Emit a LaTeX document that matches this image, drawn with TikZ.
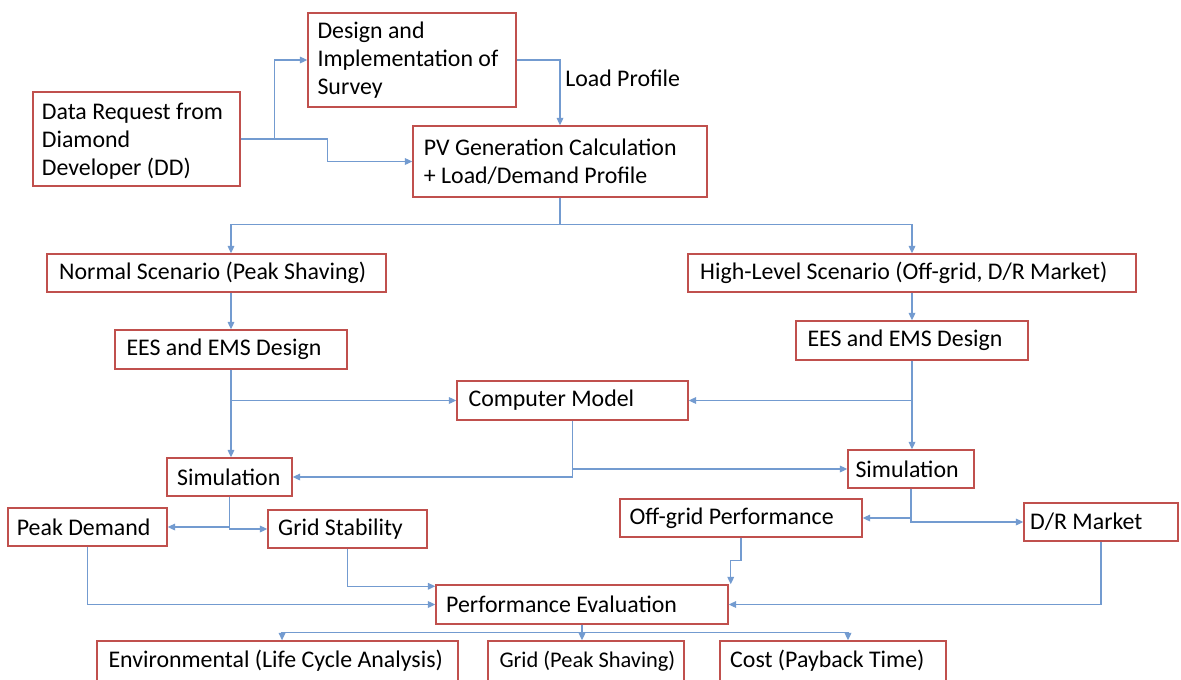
\documentclass[tikz,border=0pt]{standalone}
\usepackage{fontspec}
\setmainfont{Carlito}
\usetikzlibrary{arrows.meta}
\definecolor{boxred}{RGB}{192,80,77}
\definecolor{linkblue}{RGB}{115,155,208}
\begin{document}
\begin{tikzpicture}[x=0.75pt,y=-0.75pt,
  box/.style={draw=boxred, line width=1.1pt, fill=white, inner sep=0pt},
  lbl/.style={anchor=west, inner sep=0pt, align=left, font=\fontsize{17.9}{21}\selectfont, text=black},
  arr/.style={draw=linkblue, line width=0.85pt, -{Triangle[length=5.5pt,width=5pt]}}]
\useasboundingbox (0,0) rectangle (1181,679);

% boxes
\node[box, minimum width=155.25pt, minimum height=70.5pt] (dd) at (136.5,139) {};
\node[box, minimum width=156pt, minimum height=70.5pt] (survey) at (412,60) {};
\node[box, minimum width=220.5pt, minimum height=53.25pt] (pv) at (560,161.5) {};
\node[box, minimum width=254.25pt, minimum height=28.5pt] (normal) at (216.5,273) {};
\node[box, minimum width=336pt, minimum height=28.5pt] (high) at (912,273) {};
\node[box, minimum width=174pt, minimum height=29.25pt] (eesl) at (231,349.5) {};
\node[box, minimum width=174pt, minimum height=29.25pt] (eesr) at (912,340.5) {};
\node[box, minimum width=173.25pt, minimum height=29.25pt] (cm) at (572.5,400.5) {};
\node[box, minimum width=93.75pt, minimum height=28.5pt] (siml) at (229.5,477) {};
\node[box, minimum width=94.5pt, minimum height=28.5pt] (simr) at (911,469) {};
\node[box, minimum width=119.25pt, minimum height=28.5pt] (peak) at (87.5,527) {};
\node[box, minimum width=119.25pt, minimum height=28.5pt] (grid) at (347.5,529) {};
\node[box, minimum width=181.5pt, minimum height=28.5pt] (offgrid) at (741,518) {};
\node[box, minimum width=115.5pt, minimum height=28.5pt] (dr) at (1101,522) {};
\node[box, minimum width=219pt, minimum height=29.25pt] (pe) at (582,604.5) {};
\node[box, minimum width=270.75pt, minimum height=30pt] (env) at (277.5,661) {};
\node[box, minimum width=147pt, minimum height=30pt] (gridps) at (586,661) {};
\node[box, minimum width=169.5pt, minimum height=30pt] (cost) at (833,661) {};

% texts
\node[lbl] (ddt) at ([xshift=7pt,yshift=-1.5pt]dd.west) {Data Request from\\Diamond\\Developer (DD)};
\node[lbl] (surveyt) at ([xshift=7.5pt]survey.west) {Design and\\Implementation of\\Survey};
\node[lbl] (pvt) at ([xshift=8.5pt]pv.west) {PV Generation Calculation\\+ Load/Demand Profile};
\node[lbl] (normalt) at ([xshift=9.5pt]normal.west) {Normal Scenario (Peak Shaving)};
\node[lbl] (hight) at ([xshift=9.5pt]high.west) {High-Level Scenario (Off-grid, D/R Market)};
\node[lbl] (eeslt) at ([xshift=9pt]eesl.west) {EES and EMS Design};
\node[lbl] (eesrt) at ([xshift=9pt]eesr.west) {EES and EMS Design};
\node[lbl] (cmt) at ([xshift=9pt]cm.west) {Computer Model};
\node[lbl] (simlt) at ([xshift=8pt]siml.west) {Simulation};
\node[lbl] (simrt) at ([xshift=6pt]simr.west) {Simulation};
\node[lbl] (peakt) at ([xshift=7pt]peak.west) {Peak Demand};
\node[lbl] (gridt) at ([xshift=8pt]grid.west) {Grid Stability};
\node[lbl] (offgridt) at ([xshift=7.5pt]offgrid.west) {Off-grid Performance};
\node[lbl] (drt) at ([xshift=5pt]dr.west) {D/R Market};
\node[lbl] (pet) at ([xshift=8pt]pe.west) {Performance Evaluation};
\node[lbl] (envt) at ([xshift=9pt]env.west) {Environmental (Life Cycle Analysis)};
\node[lbl, font=\fontsize{16.8}{21}\selectfont] (gridpst) at ([xshift=9pt]gridps.west) {Grid (Peak Shaving)};
\node[lbl] (costt) at ([xshift=8pt]cost.west) {Cost (Payback Time)};
\node[lbl] (lp) at (565,78) {Load Profile};

% connectors
\draw[arr] (dd.east) -- ++(34,0) |- (survey.west);
\draw[arr] (dd.east) -- ++(87,0) |- (pv.west);
\draw[arr] (survey.east) -| (pv.north);
\draw[arr] (pv.south) -- ++(0,27) -| (normal.north -| eesl.north);
\draw[arr] (pv.south) -- ++(0,27) -| (high.north);
\draw[arr] (normal.south -| eesl.north) -- (eesl.north);
\draw[arr] (high.south) -- (eesr.north);
\draw[arr] (eesl.south) |- (cm.west);
\draw[arr] (eesl.south) -- (eesl.south |- siml.north);
\draw[arr] (eesr.south) |- (cm.east);
\draw[arr] (eesr.south) -- (eesr.south |- simr.north);
\draw[arr] (cm.south) |- (siml.east);
\draw[arr] (cm.south) |- (simr.west);
\draw[arr] (siml.south) |- (peak.east);
\draw[arr] (siml.south) |- (grid.west);
\draw[arr] (simr.south) |- (offgrid.east);
\draw[arr] (simr.south) |- (dr.west);
\draw[arr] (peak.south) |- (pe.west);
\draw[arr] (grid.south) |- ([yshift=-1.5pt]pe.north west);
\draw[arr] (offgrid.south) -- ++(0,23) -| ([xshift=1.5pt]pe.north east);
\draw[arr] (dr.south) |- (pe.east);
\draw[arr] (pe.south) -- ++(0,8) -| ([xshift=3.4pt]env.north);
\draw[arr] (pe.south) -- (pe.south |- gridps.north);
\draw[arr] (pe.south) -- ++(0,8) -| ([xshift=11.25pt]cost.north);
\end{tikzpicture}
\end{document}
